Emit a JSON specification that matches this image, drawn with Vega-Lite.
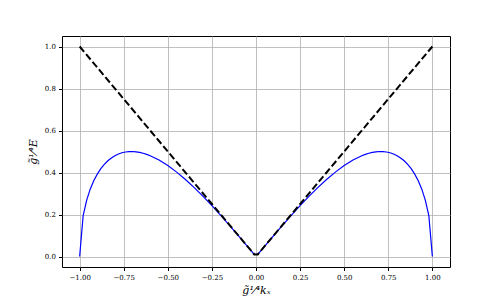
{
  "$schema": "https://vega.github.io/schema/vega-lite/v6.json",
  "width": 388,
  "height": 231,
  "autosize": {"type": "none"},
  "padding": {"left": 62, "top": 36, "right": 50, "bottom": 33},
  "background": "white",
  "config": {
    "view": {"stroke": "#000000", "strokeWidth": 1},
    "axis": {
      "labelFont": "DejaVu Serif",
      "labelFontSize": 7,
      "labelColor": "#000000",
      "titleFont": "DejaVu Serif",
      "titleFontSize": 11,
      "titleFontWeight": "normal",
      "titleFontStyle": "italic",
      "titleColor": "#000000",
      "tickColor": "#000000",
      "tickSize": 3.5,
      "domain": false,
      "gridColor": "#b0b0b0",
      "gridWidth": 0.8,
      "labelPadding": 3
    }
  },
  "layer": [
    {
      "data": {"values": [
        {"k": -1.0, "E": 0.0}, {"k": -0.98, "E": 0.195}, {"k": -0.96, "E": 0.2688},
        {"k": -0.94, "E": 0.3207}, {"k": -0.92, "E": 0.3606}, {"k": -0.9, "E": 0.3923},
        {"k": -0.88, "E": 0.418}, {"k": -0.86, "E": 0.4389}, {"k": -0.84, "E": 0.4558},
        {"k": -0.82, "E": 0.4693}, {"k": -0.8, "E": 0.48}, {"k": -0.78, "E": 0.4881},
        {"k": -0.76, "E": 0.4939}, {"k": -0.74, "E": 0.4977}, {"k": -0.72, "E": 0.4997},
        {"k": -0.7, "E": 0.4999}, {"k": -0.68, "E": 0.4986}, {"k": -0.66, "E": 0.4958},
        {"k": -0.64, "E": 0.4918}, {"k": -0.62, "E": 0.4865}, {"k": -0.6, "E": 0.48},
        {"k": -0.55, "E": 0.4593}, {"k": -0.5, "E": 0.433}, {"k": -0.45, "E": 0.4019},
        {"k": -0.4, "E": 0.3666}, {"k": -0.35, "E": 0.3279}, {"k": -0.3, "E": 0.2862},
        {"k": -0.25, "E": 0.2421}, {"k": -0.2, "E": 0.196}, {"k": -0.15, "E": 0.1483},
        {"k": -0.1, "E": 0.0995}, {"k": -0.05, "E": 0.0499}, {"k": -0.01, "E": 0.01},
        {"k": 0.01, "E": 0.01},
        {"k": 0.05, "E": 0.0499}, {"k": 0.1, "E": 0.0995}, {"k": 0.15, "E": 0.1483},
        {"k": 0.2, "E": 0.196}, {"k": 0.25, "E": 0.2421}, {"k": 0.3, "E": 0.2862},
        {"k": 0.35, "E": 0.3279}, {"k": 0.4, "E": 0.3666}, {"k": 0.45, "E": 0.4019},
        {"k": 0.5, "E": 0.433}, {"k": 0.55, "E": 0.4593}, {"k": 0.6, "E": 0.48},
        {"k": 0.62, "E": 0.4865}, {"k": 0.64, "E": 0.4918}, {"k": 0.66, "E": 0.4958},
        {"k": 0.68, "E": 0.4986}, {"k": 0.7, "E": 0.4999}, {"k": 0.72, "E": 0.4997},
        {"k": 0.74, "E": 0.4977}, {"k": 0.76, "E": 0.4939}, {"k": 0.78, "E": 0.4881},
        {"k": 0.8, "E": 0.48}, {"k": 0.82, "E": 0.4693}, {"k": 0.84, "E": 0.4558},
        {"k": 0.86, "E": 0.4389}, {"k": 0.88, "E": 0.418}, {"k": 0.9, "E": 0.3923},
        {"k": 0.92, "E": 0.3606}, {"k": 0.94, "E": 0.3207}, {"k": 0.96, "E": 0.2688},
        {"k": 0.98, "E": 0.195}, {"k": 1.0, "E": 0.0}
      ]},
      "mark": {"type": "line", "color": "#0000ff", "strokeWidth": 1.2, "clip": true},
      "encoding": {
        "x": {
          "field": "k", "type": "quantitative",
          "scale": {"domain": [-1.1, 1.1], "nice": false, "zero": false},
          "axis": {"values": [-1, -0.75, -0.5, -0.25, 0, 0.25, 0.5, 0.75, 1], "format": ".2f", "title": "g̃¹⁄⁴kₓ", "titlePadding": 4}
        },
        "y": {
          "field": "E", "type": "quantitative",
          "scale": {"domain": [-0.05, 1.05], "nice": false, "zero": false},
          "axis": {"values": [0, 0.2, 0.4, 0.6, 0.8, 1.0], "format": ".1f", "title": "g̃¹⁄⁴E", "titlePadding": 6}
        }
      }
    },
    {
      "data": {"values": [
        {"k": -1.0, "E": 1.0}, {"k": -0.01, "E": 0.01}, {"k": 0.01, "E": 0.01}, {"k": 1.0, "E": 1.0}
      ]},
      "mark": {"type": "line", "color": "#000000", "strokeWidth": 2, "strokeDash": [7, 3], "clip": true},
      "encoding": {
        "x": {"field": "k", "type": "quantitative"},
        "y": {"field": "E", "type": "quantitative"}
      }
    }
  ]
}
